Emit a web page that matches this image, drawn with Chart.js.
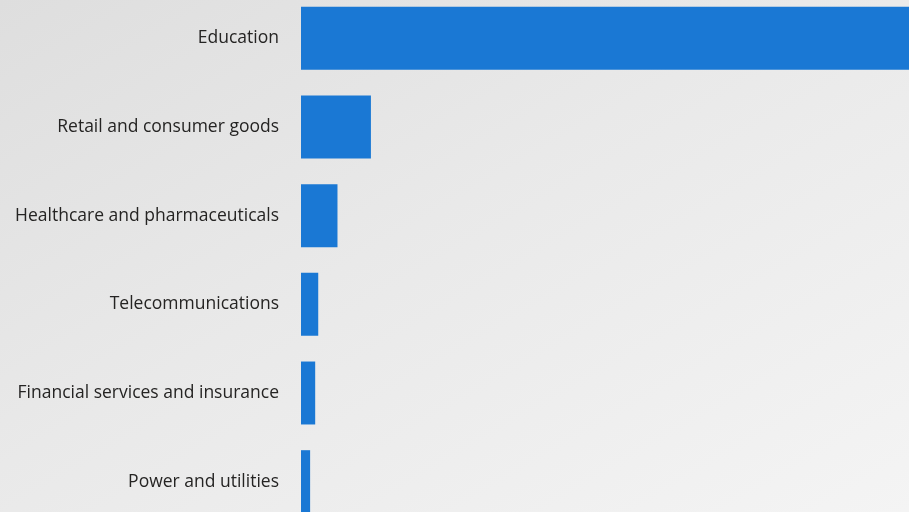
<!DOCTYPE html>
<html>
<head>
<meta charset="utf-8">
<script src="https://cdn.jsdelivr.net/npm/chart.js@4/dist/chart.umd.min.js"></script>
<style>
  html, body {
    margin: 0;
    padding: 0;
    width: 909px;
    height: 512px;
    overflow: hidden;
    background: linear-gradient(150deg, #dedede 0%, #e9e9e9 45%, #f4f4f4 100%);
  }
  #industryChart {
    position: absolute;
    left: 0;
    top: -6px;
  }
</style>
</head>
<body>
<canvas id="industryChart" width="909" height="532"></canvas>
<script>
var industries = [
    'Education',
    'Retail and consumer goods',
    'Healthcare and pharmaceuticals',
    'Telecommunications',
    'Financial services and insurance',
    'Power and utilities'
];
var shares = [72, 6.9, 3.6, 1.7, 1.4, 0.9];
var xMax = 60;

document.addEventListener("DOMContentLoaded", function () {
    var ctx = document.getElementById('industryChart').getContext('2d');

    new Chart(ctx, {
        type: 'bar',
        data: {
            labels: industries,
            datasets: [{
                data: shares,
                backgroundColor: '#1a78d4',
                borderWidth: 0,
                categoryPercentage: 1,
                barPercentage: 0.71
            }]
        },
        options: {
            indexAxis: 'y',
            responsive: false,
            animation: false,
            layout: { padding: 0 },
            scales: {
                x: {
                    display: false,
                    min: 0,
                    max: xMax
                },
                y: {
                    grid: { display: false, drawTicks: false },
                    border: { display: false },
                    ticks: {
                        color: '#252423',
                        padding: 22,
                        font: { family: 'Open Sans', size: 17.5 }
                    },
                    afterFit: function (scale) {
                        // fixed label column, and no extra room above/below the bars
                        scale.width = 301;
                        scale.paddingTop = 0;
                        scale.paddingBottom = 0;
                    }
                }
            },
            plugins: {
                legend: { display: false },
                tooltip: { enabled: false }
            }
        }
    });
});
</script>
</body>
</html>
